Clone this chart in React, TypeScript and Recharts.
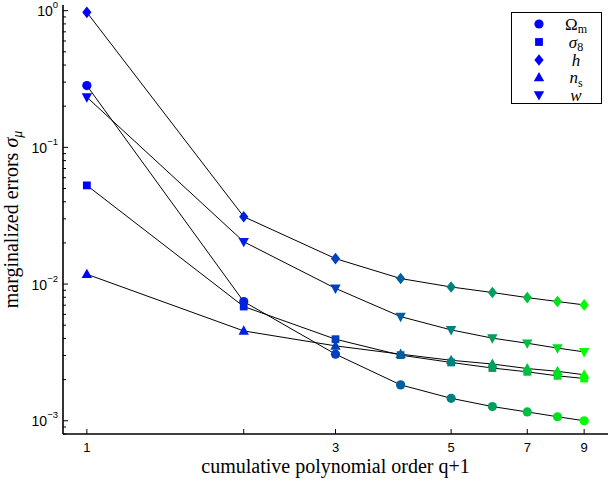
import React from 'react';
import { LineChart, Line, XAxis, YAxis, Legend } from 'recharts';

// ---- data ----
const orders = [1, 2, 3, 4, 5, 6, 7, 8, 9];
const omegaM = [0.283, 0.00744, 0.00307, 0.00183, 0.00146, 0.00127, 0.00116, 0.00107, 0.00100];
const sigma8 = [0.0527, 0.00685, 0.00395, 0.00302, 0.00267, 0.00243, 0.00228, 0.00213, 0.00204];
const hubble = [0.972, 0.0311, 0.01535, 0.01097, 0.00952, 0.00867, 0.00796, 0.00745, 0.00704];
const nS = [0.0118, 0.00454, 0.00353, 0.00307, 0.00277, 0.0026, 0.00241, 0.0023, 0.00217];
const wDE = [0.233, 0.0204, 0.0093, 0.00578, 0.00462, 0.00402, 0.00369, 0.0034, 0.00319];

const xTicks = [1, 2, 3, 5, 7, 9];
const xTickLabels = ['1', '', '3', '5', '7', '9'];
const yMajorTicks = [1, 0.1, 0.01, 0.001];
const yMajorExponents = ['0', '\u22121', '\u22122', '\u22123'];
const yMinorTicks = [
  0.9, 0.8, 0.7, 0.6, 0.5, 0.4, 0.3, 0.2,
  0.09, 0.08, 0.07, 0.06, 0.05, 0.04, 0.03, 0.02,
  0.009, 0.008, 0.007, 0.006, 0.005, 0.004, 0.003, 0.002,
  0.0009, 0.0008,
];
const pointColors = ['#0000ff', '#0020df', '#0040bf', '#00609f', '#008080', '#009f60', '#00bf40', '#00df20', '#00ff00'];

const seriesList = [
  { key: 'omegaM', shape: 'circle', values: omegaM },
  { key: 'sigma8', shape: 'square', values: sigma8 },
  { key: 'h', shape: 'diamond', values: hubble },
  { key: 'ns', shape: 'up', values: nS },
  { key: 'w', shape: 'down', values: wDE },
];

const data = orders.map((q, i) => {
  const row: Record<string, number> = { q };
  seriesList.forEach((s) => { row[s.key] = s.values[i]; });
  return row;
});

const X_DOMAIN: [number, number] = [0.9, 10];
const Y_DOMAIN: [number, number] = [0.0008, 1.1];
const SANS = "'Liberation Sans', Arial, Helvetica, sans-serif";
const SERIF = "'Liberation Serif', 'Times New Roman', Times, serif";

function Marker({ cx, cy, shape, fill }: any) {
  if (cx == null || cy == null) return null;
  switch (shape) {
    case 'circle':
      return <circle cx={cx} cy={cy} r={4.6} fill={fill} />;
    case 'square':
      return <rect x={cx - 3.9} y={cy - 3.9} width={7.8} height={7.8} fill={fill} />;
    case 'diamond':
      return <polygon points={`${cx},${cy - 5.8} ${cx + 4.6},${cy} ${cx},${cy + 5.8} ${cx - 4.6},${cy}`} fill={fill} />;
    case 'up':
      return <polygon points={`${cx},${cy - 5.6} ${cx + 5.2},${cy + 3.8} ${cx - 5.2},${cy + 3.8}`} fill={fill} />;
    case 'down':
      return <polygon points={`${cx},${cy + 5.6} ${cx + 5.2},${cy - 3.8} ${cx - 5.2},${cy - 3.8}`} fill={fill} />;
    default:
      return null;
  }
}

const isMajor = (v: number) => Math.abs(Math.log10(v) - Math.round(Math.log10(v))) < 1e-6;

function BottomTick({ x, y, payload }: any) {
  const idx = xTicks.indexOf(payload.value);
  const label = idx >= 0 ? xTickLabels[idx] : '';
  return (
    <g>
      <line x1={x} y1={y} x2={x} y2={y - 5} stroke="#000" strokeWidth={1} />
      {label ? (
        <text x={x} y={y + 18} textAnchor="middle" fontFamily={SANS} fontSize={13} fill="#000">{label}</text>
      ) : null}
    </g>
  );
}

function TopTick({ x, y }: any) {
  return <line x1={x} y1={y} x2={x} y2={y + 5} stroke="#000" strokeWidth={1} />;
}

function LeftTick({ x, y, payload }: any) {
  const major = isMajor(payload.value);
  const idx = yMajorTicks.findIndex((t) => Math.abs(t - payload.value) < 1e-9);
  return (
    <g>
      <line x1={x} y1={y} x2={x + (major ? 5 : 3)} y2={y} stroke="#000" strokeWidth={1} />
      {major && idx >= 0 ? (
        <text x={x - 5} y={y + 5.5} textAnchor="end" fontFamily={SANS} fontSize={14} fill="#000">
          <tspan>10</tspan>
          <tspan dy={-8} fontSize={9.5}>{yMajorExponents[idx]}</tspan>
        </text>
      ) : null}
    </g>
  );
}

function RightTick({ x, y, payload }: any) {
  const major = isMajor(payload.value);
  return <line x1={x} y1={y} x2={x - (major ? 5 : 3)} y2={y} stroke="#000" strokeWidth={1} />;
}

function XTitle({ viewBox }: any) {
  const cx = viewBox.x + viewBox.width / 2;
  return (
    <text x={cx} y={viewBox.y + 39} textAnchor="middle" fontFamily={SERIF} fontSize={20} fill="#000">
      cumulative polynomial order q+1
    </text>
  );
}

function YTitle({ viewBox }: any) {
  const cy = viewBox.y + viewBox.height / 2;
  const tx = 18;
  return (
    <text x={tx} y={cy} transform={`rotate(-90 ${tx} ${cy})`} textAnchor="middle" fontFamily={SERIF} fontSize={20} fill="#000">
      <tspan>marginalized errors </tspan>
      <tspan fontStyle="italic">{'\u03c3'}</tspan>
      <tspan fontStyle="italic" fontSize={14} dy={4}>{'\u03bc'}</tspan>
    </text>
  );
}

const legendLabels = [
  { main: '\u03a9', sub: 'm', italic: false },
  { main: '\u03c3', sub: '8', italic: true },
  { main: 'h', sub: '', italic: true },
  { main: 'n', sub: 's', italic: true },
  { main: 'w', sub: '', italic: true },
];

function LegendBox() {
  const rows = [12, 30, 48, 65.5, 83];
  return (
    <svg width={92} height={93} style={{ display: 'block' }}>
      <rect x={0.5} y={0.5} width={90} height={91} fill="#fff" stroke="#000" strokeWidth={1} />
      {seriesList.map((s, i) => (
        <g key={s.key}>
          <Marker cx={28} cy={rows[i]} shape={s.shape} fill="#0000ff" />
          <text x={65} y={rows[i] + 5.5} textAnchor="middle" fontFamily={SERIF} fontSize={17} fill="#000">
            <tspan fontStyle={legendLabels[i].italic ? 'italic' : 'normal'}>{legendLabels[i].main}</tspan>
            {legendLabels[i].sub ? (
              <tspan fontSize={12} dy={3.5}>{legendLabels[i].sub}</tspan>
            ) : null}
          </text>
        </g>
      ))}
    </svg>
  );
}

export default function App() {
  return (
    <div style={{ position: 'absolute', left: 0, top: 0, width: 608, height: 485, background: '#fff' }}>
      <LineChart width={608} height={485} data={data} margin={{ top: 5, right: 0, bottom: 0, left: 0 }}>
        <XAxis
          dataKey="q"
          type="number"
          scale="log"
          domain={X_DOMAIN}
          allowDataOverflow
          ticks={xTicks}
          interval={0}
          tickSize={0}
          tickMargin={0}
          tickLine={false}
          height={51}
          axisLine={{ stroke: '#000', strokeWidth: 1.6 }}
          tick={(p: any) => <BottomTick {...p} />}
          label={{ content: (p: any) => <XTitle {...p} /> }}
        />
        <XAxis
          xAxisId="top"
          orientation="top"
          dataKey="q"
          type="number"
          scale="log"
          domain={X_DOMAIN}
          allowDataOverflow
          ticks={xTicks}
          interval={0}
          tickSize={0}
          tickMargin={0}
          tickLine={false}
          height={0}
          axisLine={{ stroke: '#000', strokeWidth: 1.6 }}
          tick={(p: any) => <TopTick {...p} />}
        />
        <YAxis
          type="number"
          scale="log"
          domain={Y_DOMAIN}
          allowDataOverflow
          ticks={[...yMajorTicks, ...yMinorTicks]}
          interval={0}
          tickSize={0}
          tickMargin={0}
          tickLine={false}
          width={63}
          axisLine={{ stroke: '#000', strokeWidth: 1.6 }}
          tick={(p: any) => <LeftTick {...p} />}
          label={{ content: (p: any) => <YTitle {...p} /> }}
        />
        <YAxis
          yAxisId="right"
          orientation="right"
          type="number"
          scale="log"
          domain={Y_DOMAIN}
          allowDataOverflow
          ticks={[...yMajorTicks, ...yMinorTicks]}
          interval={0}
          tickSize={0}
          tickMargin={0}
          tickLine={false}
          width={0}
          axisLine={false}
          tick={(p: any) => <RightTick {...p} />}
        />
        {seriesList.map((s) => (
          <Line
            key={`m-${s.key}`}
            dataKey={s.key}
            stroke="none"
            isAnimationActive={false}
            dot={(p: any) => (
              <Marker key={`${s.key}-${p.index}`} cx={p.cx} cy={p.cy} shape={s.shape} fill={pointColors[p.index]} />
            )}
            activeDot={false}
            legendType="none"
          />
        ))}
        {seriesList.map((s) => (
          <Line
            key={`l-${s.key}`}
            dataKey={s.key}
            type="linear"
            stroke="#000"
            strokeWidth={1}
            dot={false}
            activeDot={false}
            isAnimationActive={false}
          />
        ))}
        <Legend
          layout="vertical"
          align="center"
          verticalAlign="middle"
          wrapperStyle={{ position: 'absolute', left: 511, top: 12, width: 92, height: 93 }}
          content={() => <LegendBox />}
        />
      </LineChart>
    </div>
  );
}
